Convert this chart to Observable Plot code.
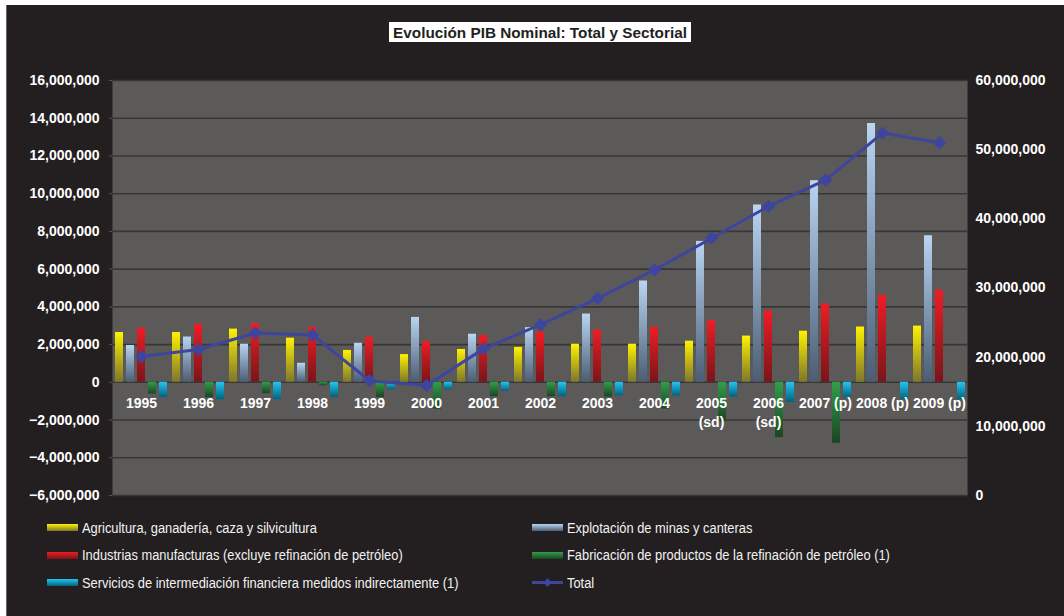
<!DOCTYPE html>
<html><head><meta charset="utf-8">
<script src="https://cdn.jsdelivr.net/npm/d3@7"></script>
<script src="https://cdn.jsdelivr.net/npm/@observablehq/plot@0.6"></script>
<style>
body{margin:0;background:#fff;}
#wrap{position:relative;width:1064px;height:616px;background:#fff;overflow:hidden;font-family:"Liberation Sans",Arial,sans-serif;}
#bg{position:absolute;left:6px;top:5px;right:0;bottom:0;background:#231f20;border-left:1px solid #6a6767;}
.layer{position:absolute;left:0;top:0;}
#title{position:absolute;left:389px;top:22px;width:302px;height:20px;background:#fff;color:#231f20;font:bold 15.3px "Liberation Sans",Arial,sans-serif;text-align:center;line-height:21px;white-space:nowrap;}
#legend{position:absolute;left:47px;top:514px;width:1000px;display:grid;grid-template-columns:485px 480px;grid-auto-rows:27.5px;font-family:"Liberation Sans Narrow","Arial Narrow","Liberation Sans",Arial,sans-serif;font-size:14px;color:#f2f2f2;}
.item{display:flex;align-items:center;white-space:nowrap;}
.sw{display:inline-block;width:31px;height:7px;margin-right:4px;flex:none;}
.lt{display:inline-block;transform:scaleX(0.92);transform-origin:left center;}
</style></head>
<body>
<div id="wrap">
  <div id="bg"></div>
  <div id="layers"></div>
  <div id="title">Evolución PIB Nominal: Total y Sectorial</div>
  <div id="legend"></div>
</div>
<script>
// ---- data (values in units of the chart) ----
const years = ["1995","1996","1997","1998","1999","2000","2001","2002","2003","2004","2005","2006","2007","2008","2009"];
const yearLabels = ["1995","1996","1997","1998","1999","2000","2001","2002","2003","2004","2005\n(sd)","2006\n(sd)","2007 (p)","2008 (p)","2009 (p)"];
const seriesNames = [
  "Agricultura, ganadería, caza y silvicultura",
  "Explotación de minas y canteras",
  "Industrias manufacturas (excluye refinación de petróleo)",
  "Fabricación de productos de la refinación de petróleo (1)",
  "Servicios de intermediación financiera medidos indirectamente (1)"
];
const agricultura = [2640000,2640000,2820000,2340000,1690000,1470000,1740000,1850000,2020000,2020000,2180000,2450000,2710000,2930000,2980000];
const mineria     = [1950000,2400000,2020000,1010000,2070000,3440000,2550000,2900000,3620000,5370000,7470000,9400000,10690000,13720000,7770000];
const manufactura = [2870000,3080000,3120000,2910000,2380000,2160000,2480000,2660000,2780000,2930000,3270000,3780000,4150000,4610000,4890000];
const refinacion  = [-620000,-810000,-600000,-180000,-800000,-1420000,-760000,-760000,-780000,-1420000,-2100000,-2930000,-3230000,0,0];
const financieros = [-810000,-920000,-920000,-800000,-390000,-400000,-480000,-760000,-730000,-730000,-780000,-1070000,-830000,-920000,-920000];
const total       = [20100000,21100000,23500000,23200000,16600000,15900000,21200000,24700000,28500000,32600000,37200000,41800000,45600000,52400000,51000000];
const leftTicks  = [-6000000,-4000000,-2000000,0,2000000,4000000,6000000,8000000,10000000,12000000,14000000,16000000];
const rightTicks = [0,10000000,20000000,30000000,40000000,50000000,60000000];
const totalLabel = "Total";

// ---- styles ----
const gradIds = ["gAgri","gMin","gMan","gRef","gFin"];
const gradTop = ["#fff200","#b9d5f2","#f01c24","#2f9f49","#24c6f3"];
const gradBot = ["#7d772c","#4b5d75","#78151a","#1b4523","#02637c"];
const lineColor = "#3e459e";

const seriesValues = [agricultura, mineria, manufactura, refinacion, financieros];
const yDomain = [leftTicks[0], leftTicks[leftTicks.length-1]];
const rDomain = [rightTicks[0], rightTicks[rightTicks.length-1]];
const toLeft = t => yDomain[0] + (t - rDomain[0]) * (yDomain[1]-yDomain[0]) / (rDomain[1]-rDomain[0]);
const toRight = v => rDomain[0] + (v - yDomain[0]) * (rDomain[1]-rDomain[0]) / (yDomain[1]-yDomain[0]);
const fmt = d3.format(",");

const common = {width:1064, height:510, marginLeft:112, marginRight:97, marginTop:80, marginBottom:15,
  style:{background:"transparent", fontFamily:"'Liberation Sans', Arial, sans-serif", overflow:"visible"}};
const xPoint = {type:"point", domain:years, padding:0.5, axis:null};

// Layer A: background, grid, axes
const A = Plot.plot({...common,
  x: xPoint,
  y: {domain:yDomain, axis:null},
  marks: [
    Plot.frame({fill:"#5c5a59", stroke:null}),
    Plot.gridY(leftTicks, {stroke:"#393637", strokeOpacity:1, strokeWidth:1.6}),
    Plot.axisY(leftTicks, {anchor:"left", tickSize:3, tickPadding:10, stroke:"#555", fill:"#ffffff", color:"#ffffff",
      tickFormat:fmt, fontSize:14, fontWeight:"bold"}),
    Plot.axisY(rightTicks.map(toLeft), {anchor:"right", tickSize:0, tickPadding:8, fill:"#ffffff", color:"#ffffff",
      tickFormat: d => fmt(Math.round(toRight(d)/1e5)*1e5), fontSize:14, fontWeight:"bold"})
  ]
});

// Layer B: grouped bars via facets
const long = [];
years.forEach((y,i) => seriesNames.forEach((s,j) => long.push({year:y, series:s, value:seriesValues[j][i]})));
const B = Plot.plot({...common,
  fx: {domain:years, paddingInner:0.03, paddingOuter:0.015, axis:null, label:null},
  x: {domain:seriesNames, paddingInner:0.3, paddingOuter:0.12, axis:null},
  y: {domain:yDomain, axis:null},
  color: {domain:seriesNames, range:gradIds.map(id => `url(#${id})`)},
  marks: [
    Plot.barY(long, {fx:"year", x:"series", y:"value", fill:"series"})
  ]
});
const defs = d3.select(B).insert("defs", ":first-child");
gradIds.forEach((id,i) => {
  const g = defs.append("linearGradient").attr("id", id).attr("x1",0).attr("y1",0).attr("x2",0).attr("y2",1);
  g.append("stop").attr("offset","0%").attr("stop-color", gradTop[i]);
  g.append("stop").attr("offset","100%").attr("stop-color", gradBot[i]);
});

// Layer C: year labels and total line on the right axis
const C = Plot.plot({...common,
  x: xPoint,
  y: {domain:yDomain, axis:null},
  marks: [
    Plot.text(years, {x:d=>d, y:0, text:yearLabels, dy:12, lineAnchor:"top", lineHeight:1.36,
      fill:"#ffffff", fontSize:14, fontWeight:"bold"}),
    Plot.line(years, {x:d=>d, y:(d,i)=>toLeft(total[i]), stroke:lineColor, strokeWidth:3}),
    Plot.dot(years, {x:d=>d, y:(d,i)=>toLeft(total[i]), symbol:"diamond2", r:6, fill:lineColor, stroke:null})
  ]
});

const layers = document.getElementById("layers");
[A,B,C].forEach(s => { s.classList.add("layer"); layers.appendChild(s); });

// Legend
const legend = document.getElementById("legend");
const order = [0,1,2,3,4,-1];
order.forEach(k => {
  const it = document.createElement("div");
  it.className = "item";
  if (k >= 0) {
    it.innerHTML = `<span class="sw" style="background:linear-gradient(${gradTop[k]}, ${gradBot[k]})"></span><span class="lt">${seriesNames[k]}</span>`;
  } else {
    it.innerHTML = `<svg width="31" height="11" style="margin-right:4px;flex:none"><line x1="0" x2="31" y1="5.5" y2="5.5" stroke="${lineColor}" stroke-width="3"/><path d="M15.5 1 L19.5 5.5 L15.5 10 L11.5 5.5 Z" fill="${lineColor}"/></svg><span class="lt">${totalLabel}</span>`;
  }
  legend.appendChild(it);
});
</script>
</body></html>
